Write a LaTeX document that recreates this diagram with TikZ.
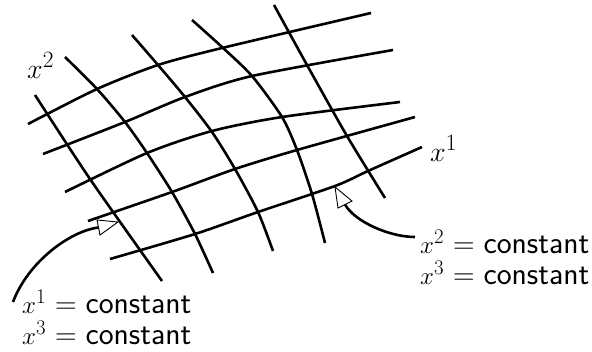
\documentclass[tikz,border=0pt]{standalone}
\usetikzlibrary{calc}
\newcommand{\cstlabel}[1]{$x^{#1}$\hspace{9pt}\scalebox{1.2}{$=$}\hspace{9pt}\scalebox{1.27}{\textsf{constant}}}
\begin{document}
\begin{tikzpicture}[x=1pt,y=-1pt,
  gridline/.style={line width=2.6pt, smooth, tension=0.45},
  axlbl/.style={inner sep=0pt, anchor=base west, scale=1.125, transform shape, font=\fontsize{24.88}{30}\selectfont},
  lbl/.style={inner sep=0pt, anchor=base west, font=\fontsize{24.88}{30}\selectfont},
  pointer/.style={line width=2.6pt},
  tiphead/.style={fill=white, draw=black, line width=0.9pt, line join=miter}]
\useasboundingbox (0,0) rectangle (592,351);
% x^1 lines
\draw[gridline] plot coordinates {(28,124) (97,89) (158,65) (222,48) (371,13)};
\draw[gridline] plot coordinates {(43,154) (125,122) (185,97) (252,76) (393,50)};
\draw[gridline] plot coordinates {(65,192) (147,153) (212,131) (282,117) (400,102)};
\draw[gridline] plot coordinates {(88,221) (172,192) (235,169) (297,150) (415,117)};
\draw[gridline] plot coordinates {(110,259) (195,234) (258,212) (335,186) (368,171) (422,147)};
% x^2 lines
\draw[gridline] plot coordinates {(35,95) (90,179) (162,281)};
\draw[gridline] plot coordinates {(65,57) (97,89) (125,122) (147,153) (172,192) (195,234) (213,273)};
\draw[gridline] plot coordinates {(132,35) (158,65) (185,97) (212,132) (235,169) (258,212) (273,251)};
\draw[gridline] plot coordinates {(192,20) (222,47) (252,76) (282,117) (297,150) (312,194) (325,243)};
\draw[gridline] plot coordinates {(274,5) (307,65) (347,136) (385,198)};
% axis labels
\node[axlbl] (lx2) at (27,78) {$x^2$};
\node[axlbl] (lx1) at (430,161) {$x^1$};
% constant labels
\node[lbl] (rA) at (420,253) {\cstlabel{2}};
\node[lbl] (rB) at (420,284) {\cstlabel{3}};
\node[lbl] (lA) at (22,313) {\cstlabel{1}};
\node[lbl] (lB) at (22,344) {\cstlabel{3}};
% pointers
\coordinate (startL) at (13,302);
\coordinate (baseL) at (98.5,227.5);
\coordinate (tipL) at (118,222);
\draw[pointer] (startL) .. controls (28,262) and (70,231) .. (baseL);
\draw[tiphead] (tipL) -- (97,220) -- (100,235) -- cycle;
\coordinate (startR) at (415,237);
\coordinate (baseR) at (345,204.5);
\coordinate (tipR) at (335,187);
\draw[pointer] (startR) .. controls (390,237) and (355,222) .. (baseR);
\draw[tiphead] (tipR) -- (338,208) -- (352,201) -- cycle;
\end{tikzpicture}
\end{document}
